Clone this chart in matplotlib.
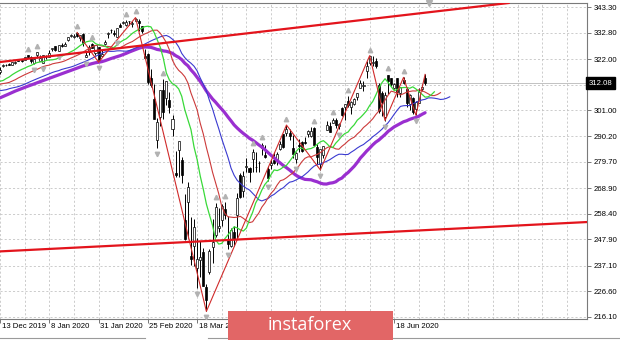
import numpy as np
import matplotlib
matplotlib.use("Agg")
import matplotlib.pyplot as plt
from matplotlib.patches import Rectangle

# ---------------- data ----------------
# date labels visible in the reference (the ones under the watermark are hidden there)
date_labels = ["13 Dec 2019", "8 Jan 2020", "31 Jan 2020", "25 Feb 2020", "18 Mar 2020", "18 Jun 2020"]
date_label_bars = [0, 16, 32, 48, 64, 128]
date_tick_bars = [0, 16, 32, 48, 64, 80, 96, 112, 128]

price_ticks = [343.30, 332.80, 322.00, 301.00, 290.20, 279.70, 268.90,
               258.40, 247.90, 237.10, 226.60, 216.10]
hidden_grid_price = 311.50
current_price = 312.08

# closes before the visible window (used only to warm up the indicators)
warmup_close = [293.24, 288.06, 290.42, 294.35, 293.08, 288.53, 291.27, 293.24, 296.28, 295.95,
                298.88, 298.40, 299.28, 297.97, 299.99, 299.01, 299.88, 300.37, 301.60, 303.30,
                303.21, 304.14, 303.33, 306.14, 307.37, 307.03, 307.10, 308.18, 308.94, 308.35,
                308.89, 309.00, 309.87, 311.79, 312.02, 311.93, 310.78, 310.27, 310.96, 313.37,
                314.08, 315.48, 314.31, 311.64, 309.55, 311.46, 312.02, 314.87, 313.88, 313.53,
                314.42, 317.13]

opens = [316.70, 319.03, 319.73, 320.00, 319.62, 320.45, 321.59, 321.47, 321.65, 323.74,
         322.95, 320.53, 323.54, 321.16, 320.49, 323.02, 322.94, 326.16, 327.29, 325.19,
         327.65, 327.36, 329.71, 331.70, 330.90, 332.55, 330.63, 332.44, 323.03, 325.06,
         328.38, 324.36, 327.00, 323.35, 328.07, 332.27, 333.91, 332.82, 331.23, 336.17,
         336.83, 335.86, 337.51, 336.51, 337.79, 337.74, 335.47, 323.14, 323.94, 314.18,
         305.46, 288.70, 298.21, 309.50, 306.12, 304.98, 293.15, 275.30, 284.64, 280.70,
         256.00, 263.09, 241.18, 245.04, 236.25, 239.25, 242.53, 228.19, 234.42, 244.87,
         249.52, 252.75, 255.70, 260.56, 247.98, 245.19, 250.76, 257.84, 274.21, 267.96,
         277.58, 277.14, 280.98, 277.57, 279.15, 285.38, 282.61, 276.73, 278.35, 280.49,
         280.73, 285.12, 291.02, 291.53, 291.71, 285.31, 280.74, 286.64, 288.04, 287.75,
         291.09, 290.34, 293.79, 286.06, 278.95, 282.37, 293.05, 294.35, 295.82, 296.79,
         294.57, 301.93, 302.12, 304.65, 302.46, 303.62, 306.55, 310.24, 311.11, 317.23,
         320.22, 320.30, 321.42, 311.46, 308.24, 298.02, 315.48, 314.07, 310.01, 314.17,
         307.99, 313.49, 309.84, 303.47, 306.16, 301.41, 303.99, 309.57, 314.24]
highs = [318.67, 319.99, 320.00, 320.25, 320.90, 321.20, 321.65, 321.52, 322.95, 323.80,
         323.10, 322.13, 324.89, 323.64, 323.73, 323.54, 325.78, 326.73, 327.46, 327.96,
         328.62, 329.02, 330.92, 332.18, 332.18, 332.95, 332.00, 332.53, 325.12, 327.85,
         328.63, 327.91, 327.17, 326.16, 330.01, 333.09, 334.19, 333.99, 334.75, 337.02,
         337.64, 338.12, 337.73, 337.67, 339.08, 338.64, 335.81, 326.00, 324.63, 318.11,
         311.56, 297.89, 309.16, 313.84, 313.10, 308.47, 298.82, 284.19, 288.52, 281.94,
         266.66, 271.48, 256.90, 256.17, 248.37, 247.38, 244.47, 229.68, 244.10, 256.35,
         262.80, 260.81, 262.43, 263.33, 257.66, 252.68, 253.32, 267.00, 275.03, 276.00,
         281.20, 277.51, 284.90, 283.94, 280.03, 287.30, 286.79, 278.04, 281.00, 283.94,
         283.70, 288.27, 291.40, 294.88, 293.32, 290.66, 283.90, 289.25, 288.46, 289.78,
         292.95, 294.00, 294.24, 287.19, 285.11, 286.33, 296.75, 296.21, 297.87, 297.67,
         295.63, 302.19, 303.57, 306.84, 304.96, 306.21, 308.13, 313.22, 313.00, 321.27,
         323.41, 323.28, 322.39, 312.15, 309.08, 308.28, 315.64, 314.39, 312.30, 314.38,
         310.70, 314.50, 310.51, 307.64, 306.39, 304.61, 310.20, 311.89, 315.70]
lows = [315.98, 318.88, 319.12, 319.53, 319.56, 319.79, 321.06, 320.90, 321.64, 322.28,
        320.55, 320.15, 322.53, 321.10, 320.36, 322.24, 322.67, 325.52, 325.20, 325.19,
        326.84, 327.26, 329.45, 330.90, 330.82, 331.17, 329.33, 327.36, 322.66, 323.60,
        326.40, 323.54, 320.73, 323.22, 327.72, 330.67, 332.80, 331.60, 331.19, 335.13,
        336.49, 335.56, 336.20, 335.21, 337.48, 333.68, 332.58, 322.30, 311.69, 310.70,
        297.51, 285.54, 294.46, 297.57, 303.33, 300.01, 290.23, 273.45, 273.50, 270.89,
        247.68, 248.52, 237.36, 237.07, 228.02, 232.22, 228.50, 218.26, 233.80, 238.36,
        249.05, 251.05, 253.53, 256.22, 243.90, 244.59, 245.22, 248.17, 264.89, 265.25,
        275.47, 271.41, 275.51, 275.46, 275.76, 282.40, 281.35, 272.02, 276.91, 278.75,
        278.50, 284.62, 285.40, 290.41, 288.59, 281.52, 279.13, 283.71, 283.78, 287.13,
        289.86, 289.88, 286.52, 278.97, 276.45, 281.34, 292.70, 291.95, 295.57, 293.69,
        293.22, 298.69, 296.87, 302.24, 299.47, 303.06, 305.10, 309.94, 309.08, 314.43,
        319.63, 319.36, 318.22, 300.01, 298.60, 296.74, 307.67, 310.86, 309.51, 306.53,
        306.47, 311.61, 302.10, 301.13, 299.42, 298.93, 303.82, 309.07, 311.51]
closes = [317.32, 319.50, 319.57, 319.59, 320.90, 320.73, 321.22, 321.23, 322.94, 322.86,
          321.08, 321.86, 324.87, 322.41, 323.64, 322.73, 324.45, 326.65, 325.71, 327.95,
          327.45, 328.19, 330.92, 331.95, 331.30, 331.34, 331.72, 328.77, 323.50, 326.89,
          326.62, 327.68, 321.73, 324.12, 329.06, 332.86, 333.98, 332.20, 334.68, 335.26,
          337.42, 337.06, 337.60, 336.73, 338.34, 336.95, 333.48, 322.42, 312.65, 311.50,
          297.51, 296.26, 309.09, 300.24, 312.86, 302.46, 297.46, 274.23, 288.42, 274.36,
          248.11, 269.32, 239.85, 252.80, 240.00, 240.51, 228.80, 222.95, 243.15, 246.79,
          261.20, 253.42, 261.65, 257.75, 246.15, 251.83, 248.19, 264.86, 265.13, 274.03,
          278.20, 275.66, 283.79, 277.76, 279.10, 286.64, 281.59, 273.04, 279.10, 279.08,
          282.97, 287.05, 285.73, 293.21, 290.48, 282.79, 283.57, 286.19, 284.25, 287.68,
          292.44, 292.50, 286.67, 281.60, 284.97, 286.28, 295.00, 291.97, 296.93, 294.88,
          295.44, 299.08, 303.53, 302.97, 304.32, 305.55, 308.08, 312.18, 311.36, 319.34,
          323.20, 320.79, 319.00, 300.61, 304.21, 307.05, 312.96, 311.66, 311.78, 308.64,
          310.62, 312.05, 304.09, 307.35, 300.05, 304.46, 308.36, 310.52, 312.08]

zigzag_bars = [25, 32, 44, 67, 93, 104, 120, 125, 131, 135, 138]
zigzag_prices = [332.95, 320.73, 339.08, 218.26, 294.88, 276.45, 323.41, 296.74, 314.50, 298.93, 315.70]

upper_trend_bars = [2.72, 165.3]
upper_trend_prices = [321.2, 345.1]
lower_trend_bars = [2.72, 190.56]
lower_trend_prices = [243.1, 255.0]

# ---------------- indicators ----------------
O = np.array(opens); H = np.array(highs); L = np.array(lows); C = np.array(closes)
nW = len(warmup_close)
all_close = np.concatenate([warmup_close, C])
all_median = np.concatenate([warmup_close, (H + L) / 2.0])
gidx = np.arange(len(all_close)) - nW   # bar index relative to first bar of the data


def smma(src, n):
    out = np.full(len(src), np.nan)
    out[n - 1] = np.mean(src[:n])
    for i in range(n, len(src)):
        out[i] = (out[i - 1] * (n - 1) + src[i]) / n
    return out


def sma(src, n):
    out = np.full(len(src), np.nan)
    for i in range(n - 1, len(src)):
        out[i] = np.mean(src[i - n + 1:i + 1])
    return out


jaw = smma(all_median, 13)
teeth = smma(all_median, 8)
lips = smma(all_median, 5)
ma50 = sma(all_close, 50)

# ---------------- figure ----------------
W, Hpx = 620, 340
FONT = "Liberation Sans"
fig = plt.figure(figsize=(W / 100, Hpx / 100), dpi=100)
fig.patch.set_facecolor("white")
ax = fig.add_axes([0, 21 / Hpx, 587 / W, 316 / Hpx])
ax.set_xlim(2.72, 190.56)
ax.set_ylim(215.13, 345.07)

grid_kw = dict(color="#c4c4c4", lw=0.6, ls=(0, (2.5, 2.5)), zorder=1)
for p in price_ticks + [hidden_grid_price]:
    ax.axhline(p, **grid_kw)
for b in range(0, 200, 8):
    ax.axvline(b, **grid_kw)
ax.axhline(current_price, color="#b8b8b8", lw=0.6, zorder=1)

# trend lines
ax.axline((upper_trend_bars[0], upper_trend_prices[0]), (upper_trend_bars[1], upper_trend_prices[1]),
          color="#e3141c", lw=1.6, zorder=6)
ax.axline((lower_trend_bars[0], lower_trend_prices[0]), (lower_trend_bars[1], lower_trend_prices[1]),
          color="#e3141c", lw=1.6, zorder=6)

# candles
xb = np.arange(len(C))
ax.vlines(xb, L, H, color="black", lw=0.7, zorder=3)
bull = C >= O
body_lo = np.minimum(O, C)
body_h = np.maximum(np.abs(C - O), 0.2)
ax.bar(xb[bull], body_h[bull], bottom=body_lo[bull], width=0.66, color="white",
       edgecolor="black", lw=0.5, zorder=3.5)
ax.bar(xb[~bull], body_h[~bull], bottom=body_lo[~bull], width=0.66, color="black",
       edgecolor="black", lw=0.5, zorder=3.5)

# indicators
ax.plot(gidx, ma50, color="#9a2fd0", lw=2.3, zorder=4, solid_capstyle="round")
ax.plot(gidx + 8, jaw, color="#3a3ad0", lw=0.8, zorder=4)
ax.plot(gidx + 5, teeth, color="#cc3a3a", lw=0.8, zorder=4)
ax.plot(gidx + 3, lips, color="#39d939", lw=0.9, zorder=4)
ax.plot(zigzag_bars, zigzag_prices, color="#d02a2a", lw=0.8, zorder=4.5)

# fractals
n = len(H)
up_f = [i for i in range(2, n - 2) if H[i] > max(H[i - 2], H[i - 1], H[i + 1], H[i + 2])]
dn_f = [i for i in range(2, n - 2) if L[i] < min(L[i - 2], L[i - 1], L[i + 1], L[i + 2])]
ax.plot(up_f, H[up_f] + 2.5, ls="none", marker="^", ms=3.2, color="#b2b2b2", zorder=5)
ax.plot(dn_f, L[dn_f] - 2.5, ls="none", marker="v", ms=3.2, color="#b2b2b2", zorder=5)

# chart shift marker
ax.plot([139.4], [345.07], marker="v", ms=4, color="#b0b0b0", clip_on=False, zorder=7)

# axes styling
ax.spines["left"].set_visible(False)
for s in ["top", "right", "bottom"]:
    ax.spines[s].set_color("#7a7a7a")
    ax.spines[s].set_linewidth(0.8)

ax.yaxis.tick_right()
ax.set_yticks(price_ticks)
ax.set_yticklabels([f"{p:.2f}" for p in price_ticks], fontsize=5.6, family=FONT)
ax.tick_params(axis="y", length=3, width=0.6, color="#606060", pad=1.5)
ax.set_xticks(date_tick_bars)
ax.set_xticklabels([])
ax.tick_params(axis="x", length=3, width=0.6, color="#606060")
for b, lab in zip(date_label_bars, date_labels):
    ax.text(b + 0.5, -0.012, lab, transform=ax.get_xaxis_transform(), ha="left", va="top",
            fontsize=5.6, family=FONT, clip_on=False)

ax.text(1.003, current_price, f"{current_price:.2f}", transform=ax.get_yaxis_transform(),
        ha="left", va="center", fontsize=5.6, family=FONT, color="white",
        bbox=dict(boxstyle="square,pad=0.35", fc="black", ec="black"), zorder=10)

# bottom bar lines
fig.add_artist(plt.Line2D([0, 145 / W], [2.5 / Hpx, 2.5 / Hpx], transform=fig.transFigure,
                          color="#9a9a9a", lw=0.8))
fig.add_artist(plt.Line2D([208 / W, 1], [2.5 / Hpx, 2.5 / Hpx], transform=fig.transFigure,
                          color="#9a9a9a", lw=0.8))

# watermark
fig.add_artist(Rectangle((228 / W, 0), 165 / W, 29 / Hpx, transform=fig.transFigure,
                         facecolor="#e26666", edgecolor="none", zorder=20))
fig.text(310 / W, 15 / Hpx, "instaforex", ha="center", va="center", color="white",
         fontsize=13, family="Open Sans", zorder=21)

fig.savefig("out.png", dpi=100, facecolor="white")
